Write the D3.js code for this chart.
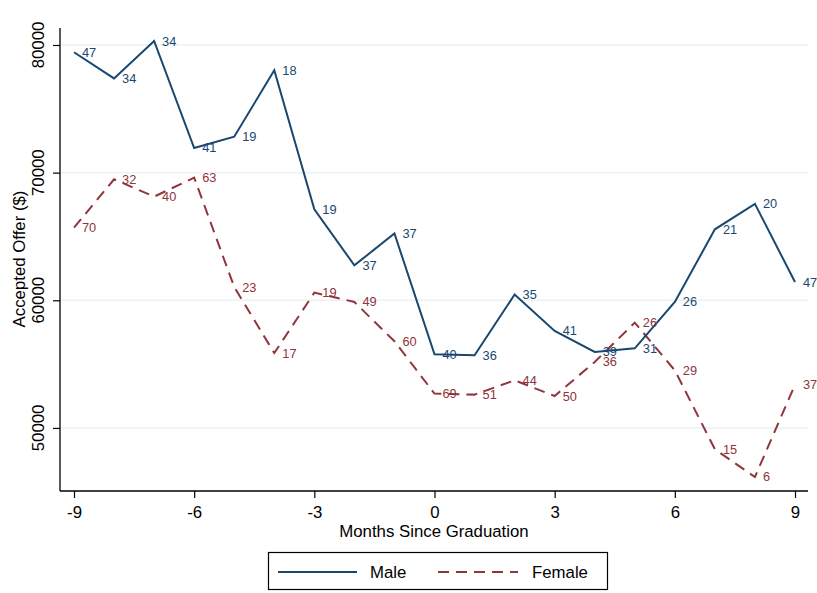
<!DOCTYPE html>
<html>
<head>
<meta charset="utf-8">
<script src="https://cdn.jsdelivr.net/npm/d3@7"></script>
<style>
  body { margin: 0; background: #ffffff; }
  svg { display: block; font-family: "Liberation Sans", Arial, Helvetica, sans-serif; }
</style>
</head>
<body>
<svg id="chart" width="817" height="593"></svg>
<script>
// ---- data ----
const months = [-9, -8, -7, -6, -5, -4, -3, -2, -1, 0, 1, 2, 3, 4, 5, 6, 7, 8, 9];
const maleOffer = [79430, 77380, 80310, 71930, 72810, 78020, 67120, 62740, 65230, 55770, 55690, 60450, 57600, 55950, 56240, 59870, 65560, 67550, 61430];
const maleCount = [47, 34, 34, 41, 19, 18, 19, 37, 37, 40, 36, 35, 41, 39, 31, 26, 21, 20, 47];
const femaleOffer = [65690, 69480, 68120, 69610, 61040, 55870, 60600, 59870, 56790, 52690, 52610, 53730, 52500, 55170, 58250, 54510, 48330, 46160, 53390];
const femaleCount = [70, 32, 40, 63, 23, 17, 19, 49, 60, 69, 51, 44, 50, 36, 26, 29, 15, 6, 37];
const xTicks = [-9, -6, -3, 0, 3, 6, 9];
const yTicks = [50000, 60000, 70000, 80000];
const seriesNames = ["Male", "Female"];

const svg = d3.select("#chart");
const navy = "#1a476f", maroon = "#90353b";

const x = d3.scaleLinear().domain([-9, 9]).range([74, 795]);
const y = d3.scaleLinear().domain([45060, 81330]).range([491, 28]);
const axisLeftX = 60, axisRightX = 808;

// gridlines
svg.append("g").selectAll("line").data(yTicks).join("line")
  .attr("x1", axisLeftX).attr("x2", axisRightX)
  .attr("y1", d => y(d)).attr("y2", d => y(d))
  .attr("stroke", "#eaf2f3").attr("stroke-width", 1.5);

// y axis
const yAxis = svg.append("g").attr("transform", `translate(${axisLeftX},0)`)
  .call(d3.axisLeft(y).tickValues(yTicks).tickSize(7).tickFormat(d3.format("d")));
yAxis.select(".domain").remove();
yAxis.selectAll(".tick line").attr("stroke", "#000").attr("stroke-width", 1.2);
yAxis.selectAll(".tick text").remove();
svg.append("line").attr("x1", axisLeftX).attr("x2", axisLeftX).attr("y1", 28).attr("y2", 491)
  .attr("stroke", "#000").attr("stroke-width", 1.3);
svg.append("g").selectAll("text").data(yTicks).join("text")
  .attr("transform", d => `translate(38,${y(d)}) rotate(-90)`)
  .attr("text-anchor", "middle").attr("dominant-baseline", "central")
  .attr("font-size", 16.8).attr("fill", "#000")
  .text(d => d3.format("d")(d));

// x axis
const xAxis = svg.append("g").attr("transform", "translate(0,491)")
  .call(d3.axisBottom(x).tickValues(xTicks).tickSize(7).tickFormat(d => d < 0 ? "-" + Math.abs(d) : d));
xAxis.select(".domain").remove();
xAxis.selectAll(".tick line").attr("stroke", "#000").attr("stroke-width", 1.2);
xAxis.selectAll(".tick text").attr("font-size", 16.8).attr("fill", "#000")
  .attr("font-family", "Liberation Sans, Arial, sans-serif").attr("y", 0).attr("dy", null)
  .attr("transform", "translate(0,21.7)").attr("dominant-baseline", "central");
svg.append("line").attr("x1", axisLeftX).attr("x2", axisRightX).attr("y1", 491).attr("y2", 491)
  .attr("stroke", "#000").attr("stroke-width", 1.3);

// axis titles
svg.append("text").attr("x", 434).attr("y", 531).attr("text-anchor", "middle")
  .attr("dominant-baseline", "central").attr("font-size", 16.8).text("Months Since Graduation");
svg.append("text").attr("transform", "translate(19,259) rotate(-90)")
  .attr("text-anchor", "middle").attr("dominant-baseline", "central")
  .attr("font-size", 16.8).text("Accepted Offer ($)");

// lines
const line = d3.line().x(d => x(d[0])).y(d => y(d[1]));
const maleData = months.map((m, i) => [m, maleOffer[i], maleCount[i]]);
const femaleData = months.map((m, i) => [m, femaleOffer[i], femaleCount[i]]);

svg.append("path").datum(femaleData).attr("d", line)
  .attr("fill", "none").attr("stroke", maroon).attr("stroke-width", 2)
  .attr("stroke-dasharray", "11,7");
svg.append("path").datum(maleData).attr("d", line)
  .attr("fill", "none").attr("stroke", navy).attr("stroke-width", 2);

// marker labels
function labels(data, color) {
  svg.append("g").selectAll("text").data(data).join("text")
    .attr("x", d => x(d[0]) + 8).attr("y", d => y(d[1]))
    .attr("dominant-baseline", "central")
    .attr("font-size", 12.8).attr("fill", color)
    .text(d => d[2]);
}
labels(maleData, navy);
labels(femaleData, maroon);

// legend
const lg = svg.append("g");
lg.append("rect").attr("x", 268.5).attr("y", 552.5).attr("width", 339).attr("height", 37)
  .attr("fill", "#fff").attr("stroke", "#000").attr("stroke-width", 1.2);
lg.append("line").attr("x1", 278).attr("x2", 357).attr("y1", 572).attr("y2", 572)
  .attr("stroke", navy).attr("stroke-width", 2);
lg.append("text").attr("x", 370).attr("y", 572).attr("dominant-baseline", "central")
  .attr("font-size", 16.8).text(seriesNames[0]);
lg.append("line").attr("x1", 438).attr("x2", 518).attr("y1", 572).attr("y2", 572)
  .attr("stroke", maroon).attr("stroke-width", 2).attr("stroke-dasharray", "11,7");
lg.append("text").attr("x", 532).attr("y", 572).attr("dominant-baseline", "central")
  .attr("font-size", 16.8).text(seriesNames[1]);
</script>
</body>
</html>
